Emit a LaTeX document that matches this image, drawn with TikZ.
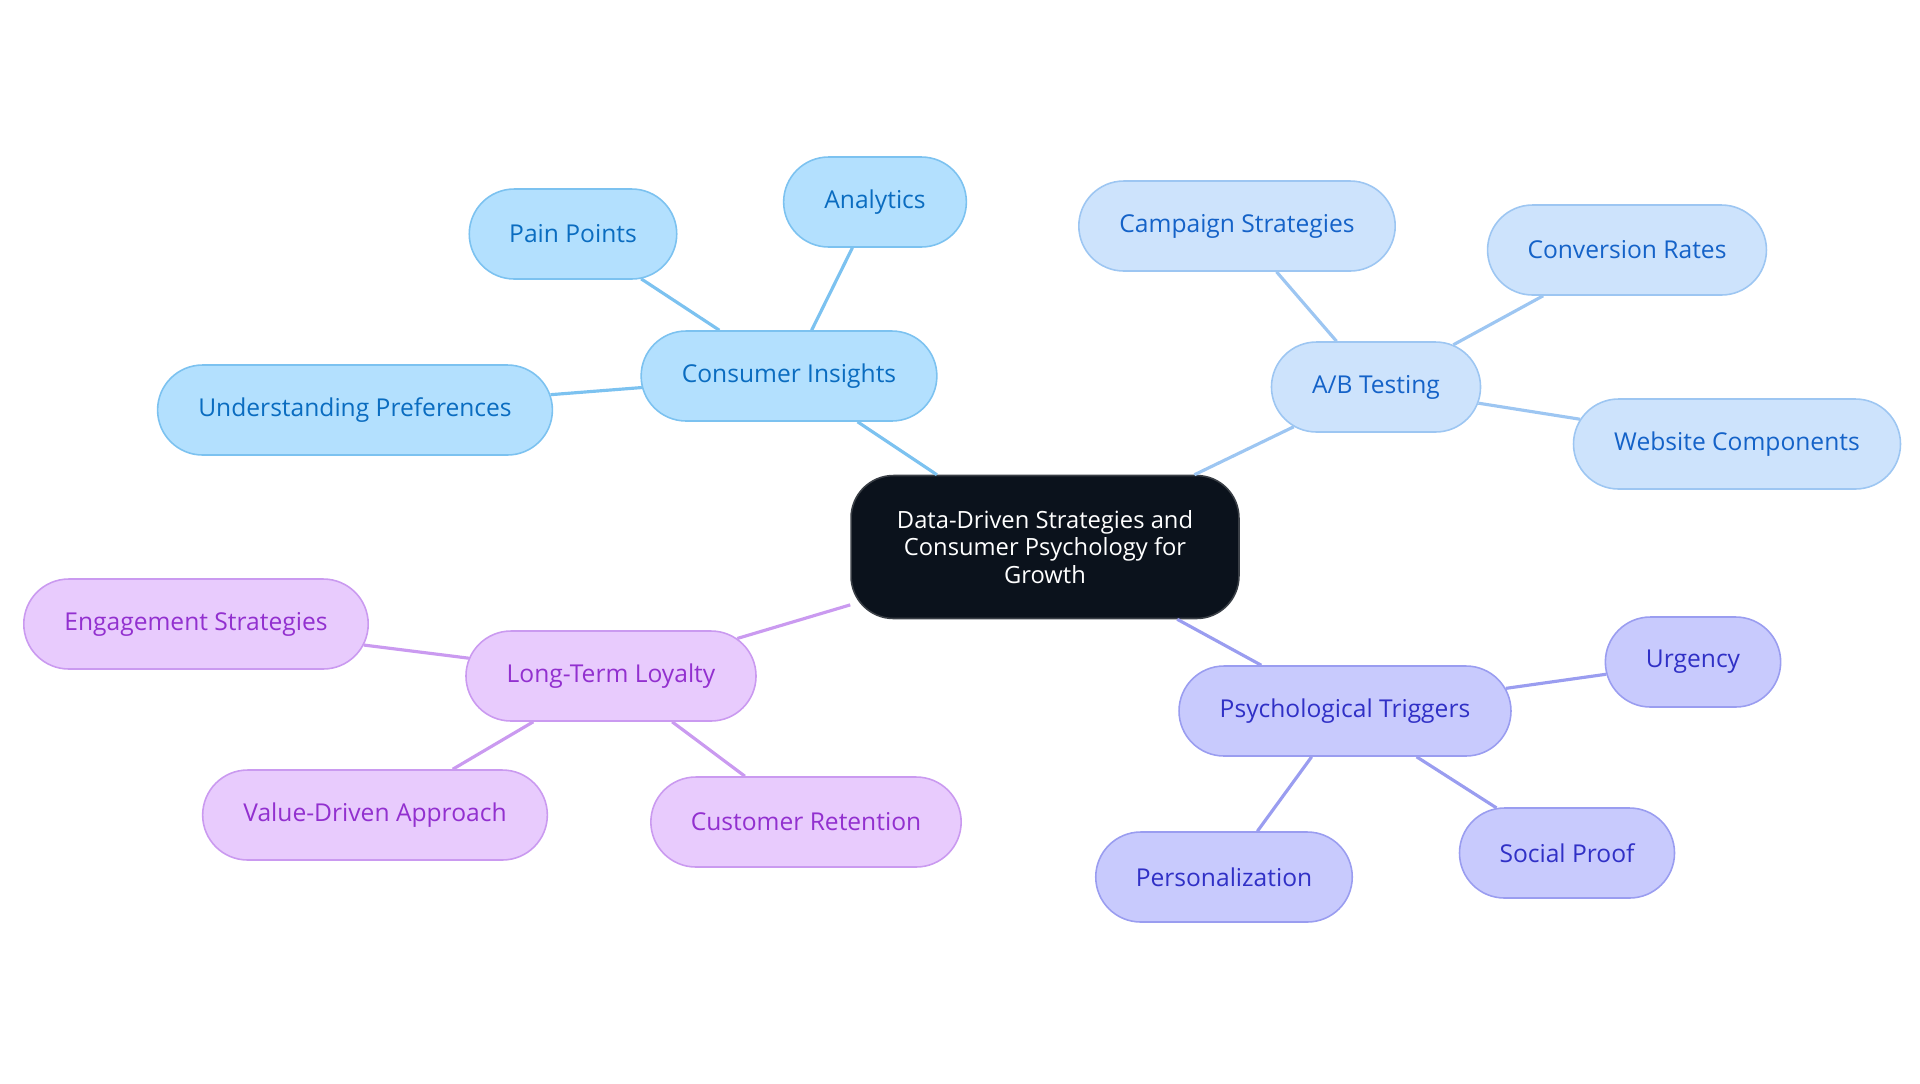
\documentclass[tikz,border=0pt]{standalone}
\usepackage{fontspec}
\setmainfont{Open Sans}
\definecolor{rootfill}{HTML}{0B121C}
\definecolor{rootline}{HTML}{3A3F46}
\definecolor{cifill}{HTML}{B3E0FE}
\definecolor{ciline}{HTML}{7CC2F0}
\definecolor{citext}{HTML}{0A6CC0}
\definecolor{abfill}{HTML}{CDE3FC}
\definecolor{abline}{HTML}{9DC6F2}
\definecolor{abtext}{HTML}{1462C8}
\definecolor{ptfill}{HTML}{C8CAFD}
\definecolor{ptline}{HTML}{9A9DF0}
\definecolor{pttext}{HTML}{3030C6}
\definecolor{ltfill}{HTML}{E8CBFD}
\definecolor{ltline}{HTML}{CA9AF0}
\definecolor{lttext}{HTML}{9230CF}
\usetikzlibrary{shapes.misc}
\tikzset{
  bubble/.style={rounded rectangle, minimum height=1.8cm, inner xsep=0.78cm,
    line width=0.9pt, font=\fontsize{14}{17}\selectfont},
  ci/.style={bubble, fill=cifill, draw=ciline, text=citext},
  ab/.style={bubble, fill=abfill, draw=abline, text=abtext},
  pt/.style={bubble, fill=ptfill, draw=ptline, text=pttext},
  lt/.style={bubble, fill=ltfill, draw=ltline, text=lttext},
  link/.style={line width=1.8pt}
}
\begin{document}
\begin{tikzpicture}[x=0.02cm, y=-0.02cm]
    \useasboundingbox (0, 0) rectangle (1920, 1083);

    \node[rectangle, rounded corners=0.85cm, fill=rootfill, draw=rootline, line width=0.9pt,
      text=white, align=center, minimum width=7.76cm, minimum height=2.86cm,
      font=\fontsize{13.5}{15.5}\selectfont] (root) at (1045, 547)
      {Data-Driven Strategies and\\Consumer Psychology for\\Growth};

    \node[ci] (ci) at (789, 376) {Consumer Insights};
    \node[ci] (pain) at (573, 234) {Pain Points};
    \node[ci] (ana) at (875, 202) {Analytics};
    \node[ci] (pref) at (355, 410) {Understanding Preferences};

    \node[ab] (ab) at (1376, 387) {A/B Testing};
    \node[ab] (camp) at (1237, 226) {Campaign Strategies};
    \node[ab] (conv) at (1627, 250) {Conversion Rates};
    \node[ab] (web) at (1737, 444) {Website Components};

    \node[pt] (pt) at (1345, 711) {Psychological Triggers};
    \node[pt] (urg) at (1693, 662) {Urgency};
    \node[pt] (soc) at (1567, 853) {Social Proof};
    \node[pt] (pers) at (1224, 877) {Personalization};

    \node[lt] (lt) at (611, 676) {Long-Term Loyalty};
    \node[lt] (eng) at (196, 624) {Engagement Strategies};
    \node[lt] (val) at (375, 815) {Value-Driven Approach};
    \node[lt] (ret) at (806, 822) {Customer Retention};

    \draw[link, ciline] (root) -- (ci);
    \draw[link, ciline] (ci) -- (pain);
    \draw[link, ciline] (ci) -- (ana);
    \draw[link, ciline] (ci) -- (pref);

    \draw[link, abline] (root) -- (ab);
    \draw[link, abline] (ab) -- (camp);
    \draw[link, abline] (ab) -- (conv);
    \draw[link, abline] (ab) -- (web);

    \draw[link, ptline] (root) -- (pt);
    \draw[link, ptline] (pt) -- (urg);
    \draw[link, ptline] (pt) -- (soc);
    \draw[link, ptline] (pt) -- (pers);

    \draw[link, ltline] (root) -- (lt);
    \draw[link, ltline] (lt) -- (eng);
    \draw[link, ltline] (lt) -- (val);
    \draw[link, ltline] (lt) -- (ret);
  \end{tikzpicture}
\end{document}
